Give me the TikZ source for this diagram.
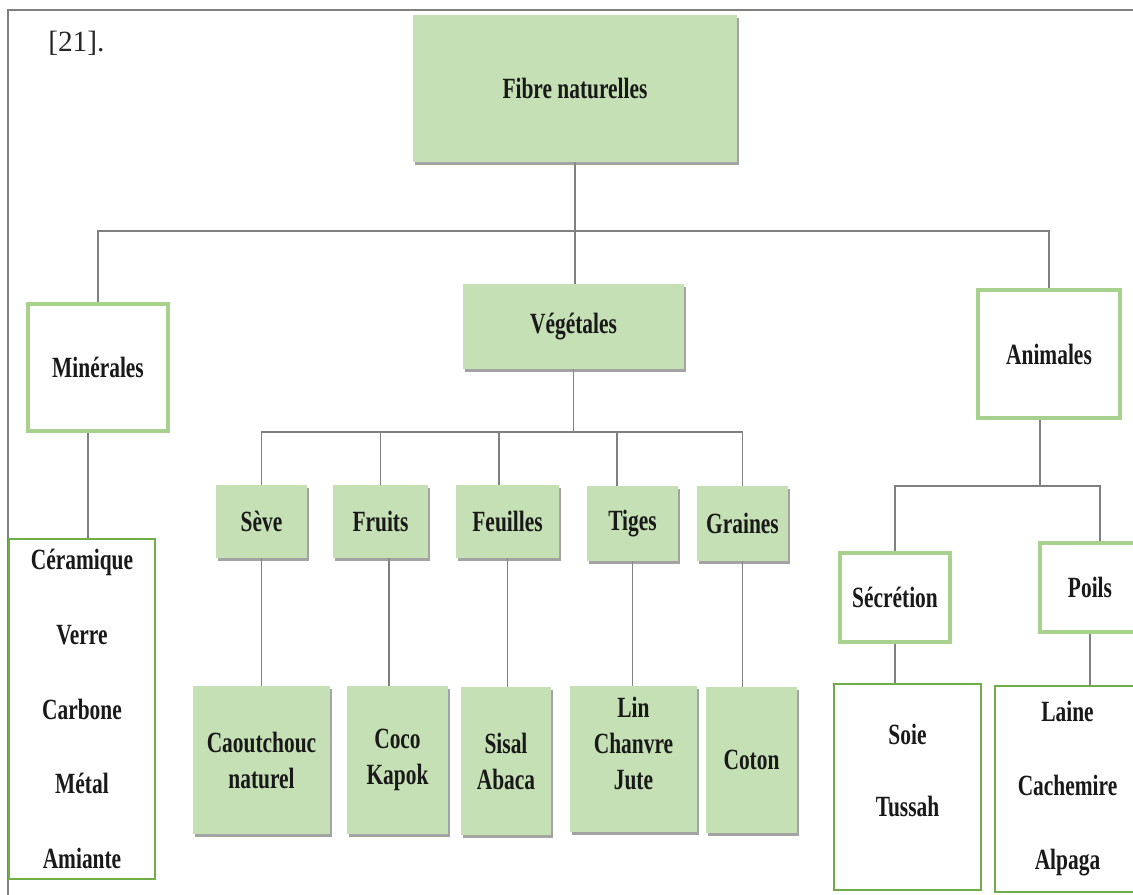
\documentclass[tikz,border=0pt]{standalone}
\usepackage{fontspec}
\setmainfont{Liberation Serif}
\newfontfamily\condfont{Liberation Serif}[FakeStretch=0.73]
\usetikzlibrary{shadows,backgrounds}
\definecolor{gfill}{HTML}{C5E0B4}
\definecolor{gline}{HTML}{A9D18E}
\definecolor{gdark}{HTML}{70AD47}
\definecolor{connc}{HTML}{808080}
\begin{document}
\begin{tikzpicture}[x=0.75pt,y=-0.75pt,
  lsp/.style={font=\condfont\bfseries\fontsize{22}{#1}\selectfont},
  lbl/.style={lsp=27, align=center, text=black!90, inner sep=0pt, outer sep=0pt},
  fillbox/.style={lbl, fill=gfill, draw=none,
    drop shadow={shadow xshift=1.5pt, shadow yshift=-2.5pt, fill=black!45, opacity=0.8}},
  linebox/.style={lbl, draw=gline, line width=3pt, fill=white},
  listbox/.style={lbl, draw=gdark, line width=2.2pt, fill=white},
  wire/.style={draw=connc, line width=0.9pt},
  sz/.style 2 args={minimum width=#1*0.75pt, minimum height=#2*0.75pt}]
\useasboundingbox (0,0) rectangle (1133,895);
\clip (0,0) rectangle (1133,895);
% frame
\draw[connc, line width=1.1pt] (8,900) -- (8,10) -- (1140,10);
\node[anchor=base west, inner sep=0pt, font=\fontsize{22}{26}\selectfont, text=black!85] (ref) at (48,52) {[21].};

% top levels
\node[fillbox, sz={324}{147}] (fibre) at (575,88.5) {Fibre naturelles};
\node[fillbox, sz={221}{85}] (veg) at (573.5,326.5) {Végétales};
\node[linebox, sz={140}{127}] (min) at (98,367.5) {Minérales};
\node[linebox, sz={142}{128}] (ani) at (1049,354) {Animales};

% minerals list
\node[listbox, sz={146}{340}, lsp=55.9] (minlist) at (82,709) {Céramique\\Verre\\Carbone\\Métal\\Amiante};

% vegetal categories
\node[fillbox, sz={91}{73}] (seve) at (261.5,521.5) {Sève};
\node[fillbox, sz={95}{73}] (fruits) at (380.5,521.5) {Fruits};
\node[fillbox, sz={103}{73}] (feuilles) at (507.5,521.5) {Feuilles};
\node[fillbox, sz={91}{75}] (tiges) at (632.5,523.5) {Tiges};
\node[fillbox, sz={91}{75}] (graines) at (742.5,523.5) {Graines};

% vegetal examples
\node[fillbox, sz={137}{148}] (caout) at (261.5,760) {Caoutchouc\\naturel};
\node[fillbox, sz={101}{148}] (coco) at (397.5,760) {Coco\\Kapok};
\node[fillbox, sz={90}{148}] (sisal) at (506,761) {Sisal\\Abaca};
\node[fillbox, sz={127}{146}] (lin) at (633.5,759) {};
\node[lbl] (lintext) at (633.5,743) {Lin\\Chanvre\\Jute};
\node[fillbox, sz={91}{146}] (coton) at (751.5,760) {Coton};

% animal categories
\node[linebox, sz={110}{89}] (sec) at (895,597.5) {Sécrétion};
\node[linebox, sz={100}{89}] (poils) at (1090,587.5) {Poils};
\node[listbox, sz={147}{206}] (soie) at (907.5,787) {};
\node[lbl, lsp=54] (soietext) at (907.5,770) {Soie\\Tussah};
\node[listbox, sz={145}{206}, lsp=55.5] (laine) at (1067.5,789) {Laine\\Cachemire\\Alpaga};

% connectors
\begin{scope}[on background layer]
\draw[wire] (fibre.south) -- ++(0,69) -| (min.north);
\draw[wire] (fibre.south) -- ++(0,69) -| (ani.north);
\draw[wire] (fibre.south) -- (fibre.south |- veg.north);
\coordinate (mL) at ([xshift=-7.5pt]min.south);
\draw[wire] (mL) -- (mL |- minlist.north);
\coordinate (feT) at ([xshift=-6.4pt]feuilles.north);
\coordinate (tiT) at ([xshift=-11.6pt]tiges.north);
\draw[wire] (veg.south) -- ++(0,63) -| (seve.north);
\draw[wire] (veg.south) -- ++(0,63) -| (fruits.north);
\draw[wire] (veg.south) -- ++(0,63) -| (feT);
\draw[wire] (veg.south) -- ++(0,63) -| (tiT);
\draw[wire] (veg.south) -- ++(0,63) -| (graines.north);
\draw[wire] (seve.south) -- (seve.south |- caout.north);
\coordinate (frB) at ([xshift=6.4pt]fruits.south);
\draw[wire] (frB) -- (frB |- coco.north);
\draw[wire] (feuilles.south) -- (feuilles.south |- sisal.north);
\draw[wire] (tiges.south) -- (tiges.south |- lin.north);
\draw[wire] (graines.south) -- (graines.south |- coton.north);
\coordinate (aS) at ([xshift=-6.75pt]ani.south);
\coordinate (pT) at ([xshift=7.5pt]poils.north);
\draw[wire] (aS) -- ++(0,68) -| (sec.north);
\draw[wire] (aS) -- ++(0,68) -| (pT);
\draw[wire] (sec.south) -- (sec.south |- soie.north);
\draw[wire] (poils.south) -- (poils.south |- laine.north);
\end{scope}
\end{tikzpicture}
\end{document}
